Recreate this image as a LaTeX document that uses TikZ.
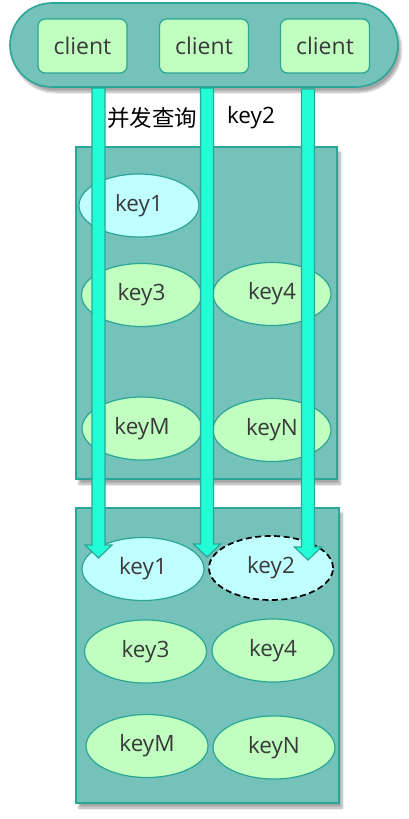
\documentclass[tikz,border=0pt]{standalone}
\usepackage{fontspec}
\setmainfont{Open Sans}
\newfontfamily\cjk{Noto Sans CJK SC}
\usetikzlibrary{shadows.blur,calc,shapes.geometric}
\definecolor{teal}{HTML}{2AA596}
\definecolor{boxfill}{HTML}{74C2B9}
\definecolor{greenfill}{HTML}{C0FFC0}
\definecolor{cyanfill}{HTML}{C0FFFF}
\definecolor{arrowfill}{HTML}{22FFD6}
\definecolor{txt}{HTML}{3A3A3A}
\begin{document}
\begin{tikzpicture}[x=1pt,y=-1pt,
  panel/.style={draw=teal,fill=boxfill,line width=1.6pt,
    blur shadow={shadow xshift=3pt,shadow yshift=-5pt,shadow blur steps=8,shadow opacity=35}},
  clientbox/.style={draw=teal,fill=greenfill,line width=1.2pt,rounded corners=7pt,
    minimum width=89pt,minimum height=54pt,inner sep=0pt,font=\fontsize{23}{26}\selectfont,text=txt},
  keyell/.style={ellipse,draw=teal,fill=greenfill,line width=1.2pt,inner sep=0pt,
    minimum width=120pt,minimum height=63pt,font=\fontsize{22.5}{26}\selectfont,text=txt},
  cyanell/.style={keyell,fill=cyanfill},
  missell/.style={keyell,fill=cyanfill,draw=black,line width=1.7pt,dash pattern=on 6pt off 3.5pt},
  blockarrow/.style={draw=teal,fill=arrowfill,line width=1.2pt,line join=miter},
  lbl/.style={font=\fontsize{22.5}{26}\selectfont,text=black,inner sep=0pt}
]
\useasboundingbox (0,0) rectangle (408,819);
% top pill
\draw[panel,rounded corners=42pt] (10,3) rectangle (398,87);
\node[clientbox] (c1) at (82.5,46) {client};
\node[clientbox] (c2) at (204,46) {client};
\node[clientbox] (c3) at (325,46) {client};
% labels
\node[lbl] (q) at (152,118) {\cjk 并发查询};
\node[lbl] (k) at (251,118) {key2};
% upper panel
\draw[panel] (76,147) rectangle (337,479);
\node[cyanell] (u1) at (139,205.5) {key1};
\node[keyell] (u3) at (141.5,295) {key3};
\node[keyell,minimum width=118pt] (u4) at (272,294) {key4};
\node[keyell] (uM) at (142,428.5) {keyM};
\node[keyell,minimum width=118pt] (uN) at (272,430) {keyN};
% lower panel
\draw[panel] (76,508) rectangle (339,803);
\node[cyanell,minimum width=122pt] (l1) at (143,569) {key1};
\node[missell,minimum width=124pt,minimum height=64pt] (l2) at (271,568) {key2};
\node[keyell,minimum width=122pt] (l3) at (145.5,651.5) {key3};
\node[keyell,minimum width=122pt] (l4) at (273,650.5) {key4};
\node[keyell,minimum width=122pt] (lM) at (147,746) {keyM};
\node[keyell,minimum width=122pt] (lN) at (274,747.5) {keyN};
% arrow endpoints
\coordinate (a1s) at (98.5,88);  \coordinate (a1e) at (98.5,558);
\coordinate (a2s) at (207,88);   \coordinate (a2e) at (207,557);
\coordinate (a3s) at (308,89);   \coordinate (a3e) at (308,560);
\foreach \s/\e in {a1s/a1e,a2s/a2e,a3s/a3e}{
  \draw[blockarrow]
    ($(\s)+(-6.5,0)$) -- ($(\e)+(-6.5,-13)$) -- ($(\e)+(-13.5,-13)$) -- (\e)
    -- ($(\e)+(13.5,-13)$) -- ($(\e)+(6.5,-13)$) -- ($(\s)+(6.5,0)$) -- cycle;
}
\end{tikzpicture}
\end{document}
